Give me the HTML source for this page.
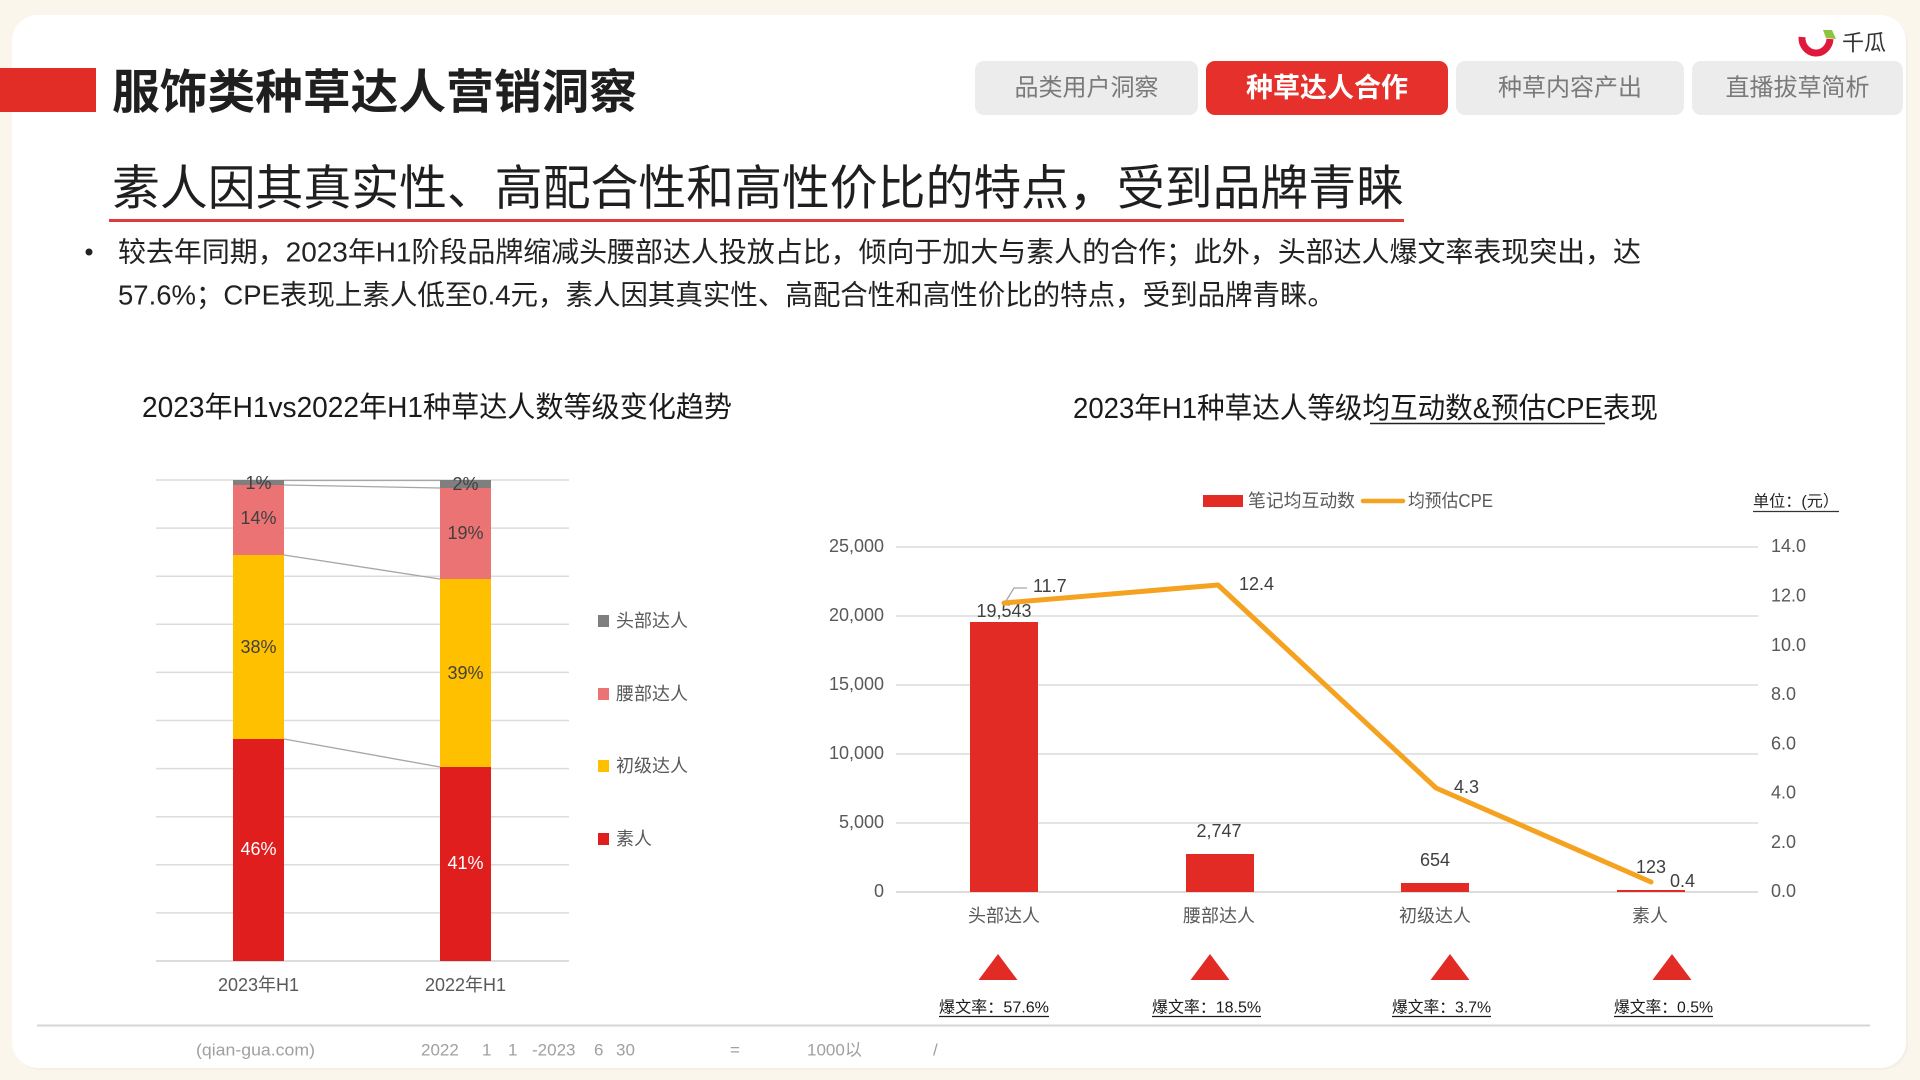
<!DOCTYPE html>
<html><head><meta charset="utf-8">
<style>
html,body{margin:0;padding:0;width:1920px;height:1080px;overflow:hidden;background:#faf6ec}
svg{display:block}
text{font-family:"Liberation Sans","Noto Sans CJK SC",sans-serif;dominant-baseline:central}
</style></head>
<body>
<svg width="1920" height="1080" viewBox="0 0 1920 1080" xmlns="http://www.w3.org/2000/svg">
  <rect x="0" y="0" width="1920" height="1080" fill="#faf6ec"/>
  <rect x="14" y="17" width="1894" height="1053" rx="26" fill="#f1ece2" opacity="0.6"/>
  <rect x="12" y="15" width="1894" height="1053" rx="26" fill="#ffffff"/>

  <!-- Header -->
  <rect x="0" y="68" width="96" height="44" fill="#e22d27"/>
  <text x="112" y="92" font-size="47" font-weight="bold" fill="#1f1f1f" textLength="525" lengthAdjust="spacingAndGlyphs">服饰类种草达人营销洞察</text>

  <rect x="975" y="61" width="223" height="54" rx="9" fill="#ececec"/>
  <text x="1086.5" y="88" font-size="24" fill="#7a7a7a" text-anchor="middle">品类用户洞察</text>
  <rect x="1206" y="61" width="242" height="54" rx="9" fill="#e5302b"/>
  <text x="1327" y="88" font-size="27" font-weight="bold" fill="#ffffff" text-anchor="middle">种草达人合作</text>
  <rect x="1456" y="61" width="228" height="54" rx="9" fill="#ececec"/>
  <text x="1570" y="88" font-size="24" fill="#7a7a7a" text-anchor="middle">种草内容产出</text>
  <rect x="1692" y="61" width="211" height="54" rx="9" fill="#ececec"/>
  <text x="1797.5" y="88" font-size="24" fill="#7a7a7a" text-anchor="middle">直播拔草简析</text>

  <!-- Logo -->
  <path d="M1802 37 A14 15 0 0 0 1830 39" stroke="#e0183c" stroke-width="7" fill="none" stroke-linecap="butt"/>
  <path d="M1823 30 L1832 30 L1836 39 L1826 38 Z" fill="#8cc63f"/>
  <text x="1842" y="43" font-size="22" fill="#333333">千瓜</text>

  <!-- Subtitle -->
  <text x="112" y="189" font-size="48" fill="#1f1f1f" textLength="1292" lengthAdjust="spacingAndGlyphs">素人因其真实性、高配合性和高性价比的特点，受到品牌青睐</text>
  <rect x="109" y="219" width="1295" height="3" fill="#e03a3a"/>

  <!-- Bullet text -->
  <circle cx="89" cy="252" r="3.5" fill="#222"/>
  <text x="118" y="252" font-size="28" fill="#222222" textLength="1523" lengthAdjust="spacingAndGlyphs">较去年同期，2023年H1阶段品牌缩减头腰部达人投放占比，倾向于加大与素人的合作；此外，头部达人爆文率表现突出，达</text>
  <text x="118" y="295" font-size="28" fill="#222222" textLength="1217" lengthAdjust="spacingAndGlyphs">57.6%；CPE表现上素人低至0.4元，素人因其真实性、高配合性和高性价比的特点，受到品牌青睐。</text>

  <!-- LEFT CHART -->
  <text x="142" y="408" font-size="29" fill="#1a1a1a" textLength="590" lengthAdjust="spacingAndGlyphs">2023年H1vs2022年H1种草达人数等级变化趋势</text>
  <g stroke="#dcdcdc" stroke-width="1.5">
    <line x1="156" y1="480" x2="569" y2="480"/>
    <line x1="156" y1="528.1" x2="569" y2="528.1"/>
    <line x1="156" y1="576.2" x2="569" y2="576.2"/>
    <line x1="156" y1="624.3" x2="569" y2="624.3"/>
    <line x1="156" y1="672.4" x2="569" y2="672.4"/>
    <line x1="156" y1="720.5" x2="569" y2="720.5"/>
    <line x1="156" y1="768.6" x2="569" y2="768.6"/>
    <line x1="156" y1="816.7" x2="569" y2="816.7"/>
    <line x1="156" y1="864.8" x2="569" y2="864.8"/>
    <line x1="156" y1="912.9" x2="569" y2="912.9"/>
    <line x1="156" y1="961" x2="569" y2="961" stroke="#d0d0d0"/>
  </g>
  <!-- bar 1 -->
  <rect x="233" y="480" width="51" height="5" fill="#7f7f7f"/>
  <rect x="233" y="485" width="51" height="70" fill="#ec7373"/>
  <rect x="233" y="555" width="51" height="184" fill="#ffc000"/>
  <rect x="233" y="739" width="51" height="222" fill="#e01e1e"/>
  <!-- bar 2 -->
  <rect x="440" y="480" width="51" height="8" fill="#7f7f7f"/>
  <rect x="440" y="488" width="51" height="91" fill="#ec7373"/>
  <rect x="440" y="579" width="51" height="188" fill="#ffc000"/>
  <rect x="440" y="767" width="51" height="194" fill="#e01e1e"/>
  <!-- connectors -->
  <g stroke="#a6a6a6" stroke-width="1.3">
    <line x1="284" y1="480.5" x2="440" y2="480.5"/>
    <line x1="284" y1="485" x2="440" y2="488"/>
    <line x1="284" y1="555" x2="440" y2="579"/>
    <line x1="284" y1="739" x2="440" y2="767"/>
  </g>
  <g font-size="18" text-anchor="middle" fill="#404040">
    <text x="258.5" y="483">1%</text>
    <text x="258.5" y="518">14%</text>
    <text x="258.5" y="647">38%</text>
    <text x="258.5" y="849" fill="#ffffff">46%</text>
    <text x="465.5" y="484">2%</text>
    <text x="465.5" y="533">19%</text>
    <text x="465.5" y="673">39%</text>
    <text x="465.5" y="863" fill="#ffffff">41%</text>
  </g>
  <g font-size="18" text-anchor="middle" fill="#595959">
    <text x="258.5" y="985">2023年H1</text>
    <text x="465.5" y="985">2022年H1</text>
  </g>
  <!-- legend -->
  <rect x="598" y="615" width="11" height="12" fill="#7f7f7f"/>
  <rect x="598" y="688" width="11" height="12" fill="#ec7373"/>
  <rect x="598" y="760" width="11" height="12" fill="#ffc000"/>
  <rect x="598" y="833" width="11" height="12" fill="#e01e1e"/>
  <g font-size="18" fill="#595959">
    <text x="616" y="621">头部达人</text>
    <text x="616" y="694">腰部达人</text>
    <text x="616" y="766">初级达人</text>
    <text x="616" y="839">素人</text>
  </g>

  <!-- RIGHT CHART -->
  <text x="1073" y="409" font-size="29" fill="#1a1a1a" textLength="585" lengthAdjust="spacingAndGlyphs">2023年H1种草达人等级均互动数&amp;预估CPE表现</text>
  <line x1="1370" y1="423.5" x2="1605" y2="423.5" stroke="#222" stroke-width="1.5"/>

  <rect x="1203" y="495" width="40" height="12" fill="#e32b26"/>
  <text x="1248" y="501" font-size="18" fill="#595959" textLength="107" lengthAdjust="spacingAndGlyphs">笔记均互动数</text>
  <line x1="1363" y1="501" x2="1403" y2="501" stroke="#f4a21f" stroke-width="4.5" stroke-linecap="round"/>
  <text x="1408" y="501" font-size="18" fill="#595959" textLength="85" lengthAdjust="spacingAndGlyphs">均预估CPE</text>
  <text x="1753" y="502" font-size="16" fill="#262626" textLength="86" lengthAdjust="spacingAndGlyphs">单位：(元）</text>
  <line x1="1753" y1="511.5" x2="1839" y2="511.5" stroke="#333" stroke-width="1.2"/>

  <g stroke="#dcdcdc" stroke-width="1.5">
    <line x1="896" y1="547" x2="1758" y2="547"/>
    <line x1="896" y1="616" x2="1758" y2="616"/>
    <line x1="896" y1="685" x2="1758" y2="685"/>
    <line x1="896" y1="754" x2="1758" y2="754"/>
    <line x1="896" y1="823" x2="1758" y2="823"/>
    <line x1="896" y1="892" x2="1758" y2="892" stroke="#d0d0d0"/>
  </g>
  <g font-size="18" fill="#595959" text-anchor="end">
    <text x="884" y="546">25,000</text>
    <text x="884" y="615">20,000</text>
    <text x="884" y="684">15,000</text>
    <text x="884" y="753">10,000</text>
    <text x="884" y="822">5,000</text>
    <text x="884" y="891">0</text>
  </g>
  <g font-size="18" fill="#595959">
    <text x="1771" y="546">14.0</text>
    <text x="1771" y="595.6">12.0</text>
    <text x="1771" y="644.9">10.0</text>
    <text x="1771" y="694.1">8.0</text>
    <text x="1771" y="743.4">6.0</text>
    <text x="1771" y="792.7">4.0</text>
    <text x="1771" y="842">2.0</text>
    <text x="1771" y="891">0.0</text>
  </g>
  <!-- bars -->
  <rect x="970" y="622" width="68" height="270" fill="#e32b26"/>
  <rect x="1186" y="854" width="68" height="38" fill="#e32b26"/>
  <rect x="1401" y="883" width="68" height="9" fill="#e32b26"/>
  <rect x="1617" y="890" width="68" height="2" fill="#e32b26"/>
  <g font-size="18" fill="#404040" text-anchor="middle">
    <text x="1004" y="611">19,543</text>
    <text x="1219" y="831">2,747</text>
    <text x="1435" y="860">654</text>
    <text x="1651" y="867">123</text>
  </g>
  <!-- line -->
  <polyline points="1004,603 1218,585 1436,788 1651,882" fill="none" stroke="#f4a21f" stroke-width="5" stroke-linejoin="round" stroke-linecap="round"/>
  <polyline points="1006,601 1014,588 1027,588" fill="none" stroke="#a6a6a6" stroke-width="1.3"/>
  <g font-size="18" fill="#404040">
    <text x="1033" y="586">11.7</text>
    <text x="1239" y="584">12.4</text>
    <text x="1454" y="787">4.3</text>
    <text x="1670" y="881">0.4</text>
  </g>
  <g font-size="18" fill="#595959" text-anchor="middle">
    <text x="1004" y="916">头部达人</text>
    <text x="1219" y="916">腰部达人</text>
    <text x="1435" y="916">初级达人</text>
    <text x="1650" y="916">素人</text>
  </g>
  <!-- triangles -->
  <g fill="#e32b26">
    <polygon points="998,954 1017.5,980 978.5,980"/>
    <polygon points="1210,954 1229.5,980 1190.5,980"/>
    <polygon points="1450,954 1469.5,980 1430.5,980"/>
    <polygon points="1672,954 1691.5,980 1652.5,980"/>
  </g>
  <g font-size="16" fill="#1a1a1a">
    <text x="939" y="1008" textLength="110" lengthAdjust="spacingAndGlyphs">爆文率：57.6%</text>
    <text x="1152" y="1008" textLength="109" lengthAdjust="spacingAndGlyphs">爆文率：18.5%</text>
    <text x="1392" y="1008" textLength="99" lengthAdjust="spacingAndGlyphs">爆文率：3.7%</text>
    <text x="1614" y="1008" textLength="99" lengthAdjust="spacingAndGlyphs">爆文率：0.5%</text>
  </g>
  <g stroke="#1a1a1a" stroke-width="1.2">
    <line x1="939" y1="1016.5" x2="1049" y2="1016.5"/>
    <line x1="1152" y1="1016.5" x2="1261" y2="1016.5"/>
    <line x1="1392" y1="1016.5" x2="1491" y2="1016.5"/>
    <line x1="1614" y1="1016.5" x2="1713" y2="1016.5"/>
  </g>

  <!-- Footer -->
  <line x1="37" y1="1025.5" x2="1870" y2="1025.5" stroke="#d6d6d6" stroke-width="2"/>
  <g font-size="17" fill="#a0a0a0">
    <text x="196" y="1050" textLength="119" lengthAdjust="spacingAndGlyphs">(qian-gua.com)</text>
    <text x="421" y="1050">2022</text>
    <text x="482" y="1050">1</text>
    <text x="508" y="1050">1</text>
    <text x="532" y="1050">-2023</text>
    <text x="594" y="1050">6</text>
    <text x="616" y="1050">30</text>
    <text x="730" y="1050">=</text>
    <text x="807" y="1050">1000以</text>
    <text x="933" y="1050">/</text>
  </g>
</svg>
</body></html>
